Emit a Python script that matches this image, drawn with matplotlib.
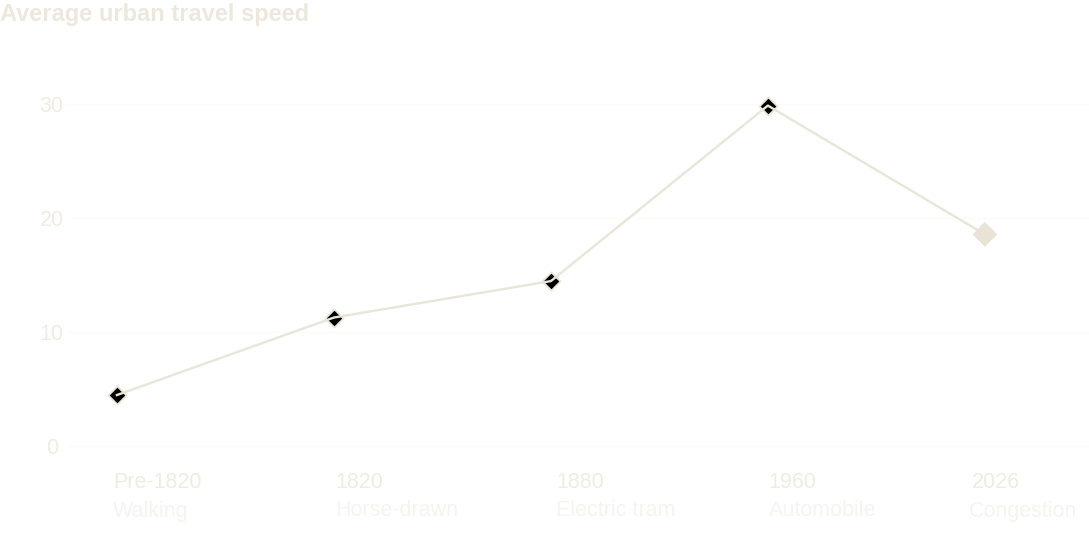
import matplotlib.pyplot as plt
import matplotlib.transforms as mtransforms
import numpy as np

plt.rcParams['font.family'] = ['Liberation Sans', 'DejaVu Sans']

# data
eras = ['Pre-1820', '1820', '1880', '1960', '2026']
modes = ['Walking', 'Horse-drawn', 'Electric tram', 'Automobile', 'Congestion']
speed = [4.5, 11.3, 14.5, 29.9, 18.6]
y_ticks = [0, 10, 20, 30]

line_col = '#e9e5d9'
text_col = '#efece2'
sub_col = '#f6f4ee'
grid_col = '#fcfbf8'

fig = plt.figure(figsize=(10.89, 5.48), dpi=100)
ax = fig.add_axes([67 / 1089, 1 - 460 / 548, 1 - 67 / 1089, 400 / 548])

x = np.arange(len(eras))

# markers under the line, last point drawn as the larger cream diamond
ax.scatter(x[:-1], speed[:-1], marker='D', s=85, color='black',
           edgecolors=line_col, linewidths=1.3, zorder=2)
ax.plot(x, speed, color=line_col, lw=1.7, zorder=3)
ax.scatter(x[-1:], speed[-1:], marker='D', s=160, color='#e8e3d6',
           edgecolors='none', zorder=4)

ax.set_xlim(-0.23, 4.48)
ax.set_ylim(-1.2, 33.9)

for t in y_ticks:
    ax.axhline(t, color=grid_col, lw=1, zorder=0)
ax.set_yticks(y_ticks)
ax.set_yticklabels([str(t) for t in y_ticks], fontsize=15.5, color=text_col)
for lab in ax.get_yticklabels():
    lab.set_horizontalalignment('center')
ax.tick_params(axis='y', length=0, pad=11)
ax.set_xticks([])

for s in ax.spines.values():
    s.set_visible(False)

# two-line category labels, left aligned near each point
era_off = [-4, 1, 5, 1, -13]
mode_off = [-4, 1, 5, 1, -16]
for i, (era, mode) in enumerate(zip(eras, modes)):
    for txt, off, yy, col in [(era, era_off[i], 482, text_col),
                              (mode, mode_off[i], 511, sub_col)]:
        tr = mtransforms.offset_copy(ax.transData, fig=fig, x=off, y=0, units='dots')
        blend = mtransforms.blended_transform_factory(tr, fig.transFigure)
        ax.text(i, 1 - yy / 548, txt, transform=blend, ha='left', va='center',
                fontsize=15.5, color=col)

fig.text(0, 1 - 14 / 548, 'Average urban travel speed', ha='left', va='center',
         fontsize=17, fontweight='bold', color='#ece8dd')

fig.savefig('out.png', dpi=100, facecolor='white')
